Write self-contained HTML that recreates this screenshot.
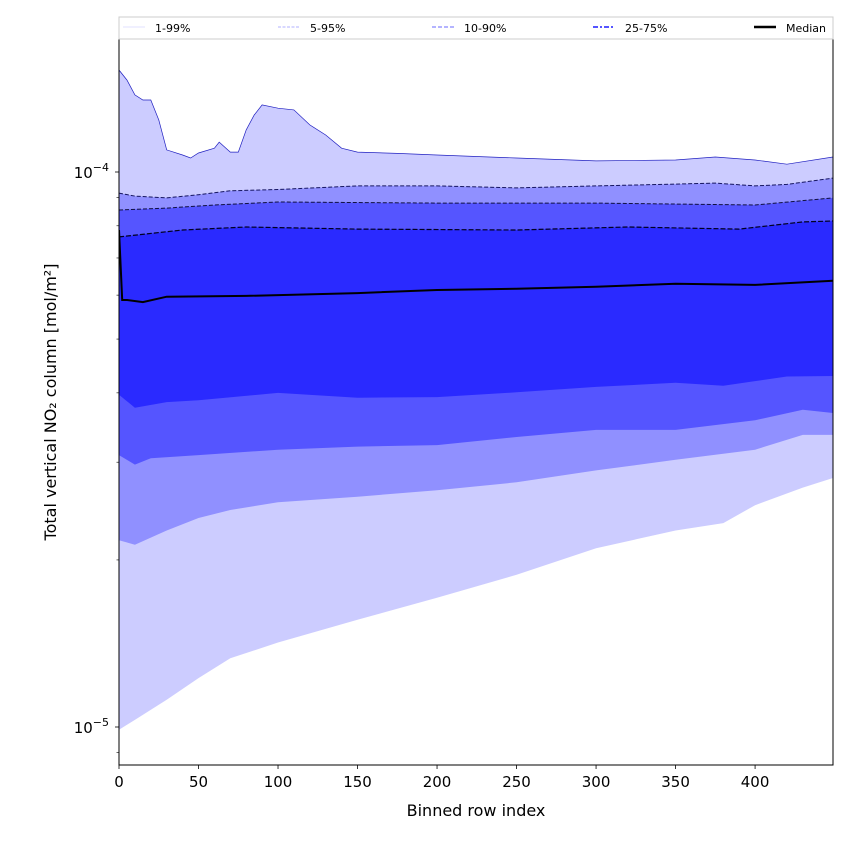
<!DOCTYPE html>
<html><head><meta charset="utf-8"><style>
body{margin:0;background:#fff}svg{display:block;font-family:"DejaVu Sans","Liberation Sans",sans-serif}
</style></head><body>
<svg id="chart" width="850" height="850"></svg>
<script>
const xs99=[0,5,10,15,20,25,30,40,45,50,60,63,70,75,80,85,90,100,110,120,130,140,150,175,200,250,300,350,375,400,420,449];
const p99=[1.527,1.464,1.377,1.348,1.348,1.241,1.096,1.073,1.06,1.082,1.104,1.132,1.086,1.086,1.191,1.267,1.321,1.303,1.294,1.216,1.166,1.104,1.086,1.08,1.073,1.06,1.047,1.051,1.064,1.051,1.033,1.064];
const xs95=[0,10,30,50,70,100,150,200,250,300,350,375,400,420,449];
const p95=[0.916,0.905,0.898,0.91,0.925,0.93,0.944,0.944,0.936,0.944,0.951,0.955,0.944,0.95,0.975];
const xs90=[0,30,60,100,200,300,400,449];
const p90=[0.854,0.861,0.872,0.883,0.879,0.879,0.872,0.898];
const xs75=[0,40,80,150,250,320,390,430,449];
const p75=[0.764,0.786,0.796,0.789,0.786,0.796,0.789,0.813,0.816];
const xsMed=[0,2,5,15,30,80,150,200,250,300,350,400,449];
const pMed=[0.786,0.588,0.588,0.583,0.596,0.598,0.605,0.613,0.616,0.621,0.629,0.626,0.637];
const xs25=[0,10,30,50,100,150,200,250,300,350,380,420,449];
const p25=[0.397,0.376,0.385,0.388,0.400,0.392,0.393,0.401,0.410,0.417,0.412,0.428,0.429];
const xs10=[0,10,20,50,100,150,200,250,300,350,400,430,449];
const p10=[0.309,0.297,0.305,0.309,0.316,0.320,0.322,0.333,0.343,0.343,0.357,0.373,0.368];
const xs5=[0,10,30,50,70,100,150,200,250,300,350,400,430,449];
const p5=[0.217,0.213,0.226,0.238,0.246,0.254,0.260,0.267,0.276,0.290,0.303,0.316,0.336,0.336];
const xs1=[0,10,30,50,70,100,150,200,250,300,350,380,400,430,449];
const p1=[0.0989,0.103,0.112,0.1225,0.133,0.142,0.156,0.171,0.188,0.210,0.226,0.233,0.251,0.270,0.281];
const xTicks=[0,50,100,150,200,250,300,350,400];
const legendLabels=["1-99%","5-95%","10-90%","25-75%","Median"];

const L=119,R=833,T=39,B=765,xMax=449;
const sx=x=>L+(x-0)*(R-L)/xMax;
const sy=v=>172-(Math.log10(v*1e-4)+4)*555;
const NS="http://www.w3.org/2000/svg";
const svg=document.getElementById('chart');
function mk(t,a,p){const e=document.createElementNS(NS,t);for(const k in a)e.setAttribute(k,a[k]);(p||svg).appendChild(e);return e;}
function pts(xs,vs){return xs.map((x,i)=>sx(x).toFixed(1)+','+sy(vs[i]).toFixed(1));}
const clip=mk('clipPath',{id:'pc'});mk('rect',{x:L,y:T,width:R-L,height:B-T},clip);
const g=mk('g',{'clip-path':'url(#pc)'});
function bandG(xu,vu,xl,vl,fill,name){const up=pts(xu,vu),lo=pts(xl,vl).reverse();const e=mk('polygon',{points:up.concat(lo).join(' '),fill:fill},g);}
bandG(xs99,p99,xs1,p1,'#ccccff','band-1-99');
bandG(xs95,p95,xs5,p5,'#9090ff','band-5-95');
bandG(xs90,p90,xs10,p10,'#5555ff','band-10-90');
bandG(xs75,p75,xs25,p25,'#2a2aff','band-25-75');
function line(xs,vs,st,w,dash,name){const e=mk('polyline',{points:pts(xs,vs).join(' '),fill:'none',stroke:st,'stroke-width':w,'stroke-dasharray':dash||'none'},g);}
line(xs99,p99,'#2020c0',0.7,'','line-p99');
line(xs95,p95,'#151560',1,'4,2','line-p95');
line(xs90,p90,'#101040',1,'4,2','line-p90');
line(xs75,p75,'#000020',1.2,'5,2','line-p75');
line(xsMed,pMed,'#000',2,'','line-median');
const fr=mk('rect',{x:L,y:T,width:R-L,height:B-T,fill:'none',stroke:'#000','stroke-width':1});

xTicks.forEach(t=>{const x=sx(t);mk('line',{x1:x,x2:x,y1:B,y2:B+4,stroke:'#000','stroke-width':0.8});
 const tx=mk('text',{x:x,y:B+22,'font-size':15,'text-anchor':'middle'});tx.textContent=t;
 });
[1e-4,1e-5].forEach(v=>{const y=sy(v*1e4);mk('line',{x1:L-4,x2:L,y1:y,y2:y,stroke:'#000','stroke-width':0.8});
 const tx=mk('text',{x:L-10,y:y+6,'font-size':15,'text-anchor':'end'});
 tx.innerHTML='10<tspan dy="-7" font-size="11">−'+(v===1e-4?4:5)+'</tspan>';
 });
[0.9,2,3,4,5,6,7,8,9].forEach(m=>{const y=sy(m*0.1);mk('line',{x1:L-2.5,x2:L,y1:y,y2:y,stroke:'#000','stroke-width':0.6});});
const xt=mk('text',{x:(L+R)/2,y:816,'font-size':16,'text-anchor':'middle'});xt.textContent='Binned row index';

const yt=mk('text',{x:0,y:0,'font-size':16,'text-anchor':'middle',transform:'translate(56,402) rotate(-90)'});yt.textContent='Total vertical NO₂ column [mol/m²]';

const lg=mk('g',{});
mk('rect',{x:119,y:17,width:714,height:22,fill:'#fff',stroke:'#ccc','stroke-width':1},lg);
const lx=[123,278,432,593,754],lc=['#e0e0ff','#b0b0ff','#8888ff','#5555ff','#000'],lw=[1,1,1.3,2,2.5],ld=['','3,1.5','4,2','5,2,2,2',''];
legendLabels.forEach((s,i)=>{const e=mk('g',{},lg);
 mk('line',{x1:lx[i],x2:lx[i]+22,y1:27,y2:27,stroke:lc[i],'stroke-width':lw[i],'stroke-dasharray':ld[i]||'none'},e);
 const t=mk('text',{x:lx[i]+32,y:32,'font-size':11},e);t.textContent=s;});
</script>
</body></html>
